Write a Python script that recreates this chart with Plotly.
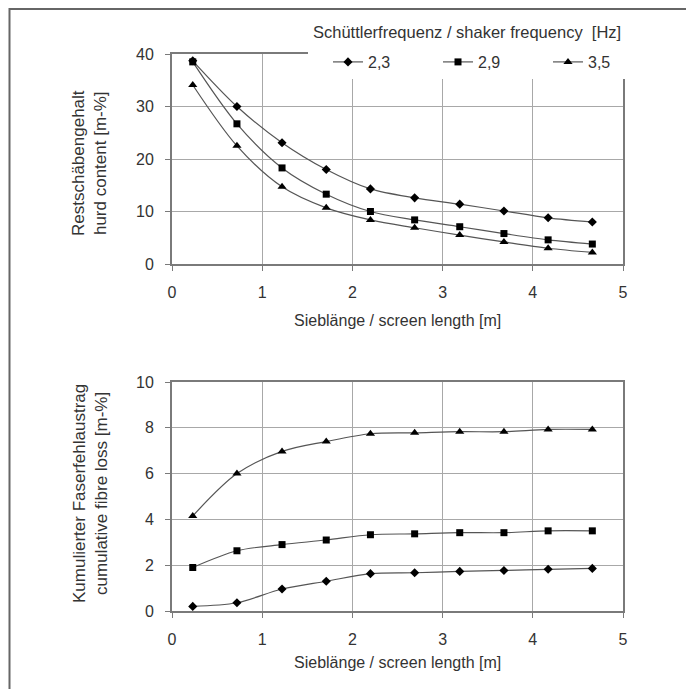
import plotly.graph_objects as go

# ---------------- data ----------------
screen_length = [0.23, 0.72, 1.22, 1.71, 2.20, 2.69, 3.19, 3.68, 4.17, 4.66]
freq_labels = ["2,3", "2,9", "3,5"]

hurd_23 = [38.7, 30.0, 23.1, 18.0, 14.3, 12.6, 11.4, 10.1, 8.8, 8.0]
hurd_29 = [38.5, 26.7, 18.3, 13.3, 10.0, 8.4, 7.1, 5.8, 4.6, 3.8]
hurd_35 = [34.1, 22.5, 14.7, 10.7, 8.4, 6.9, 5.5, 4.2, 3.0, 2.2]

loss_23 = [0.20, 0.36, 0.96, 1.30, 1.63, 1.67, 1.73, 1.77, 1.82, 1.86]
loss_29 = [1.90, 2.63, 2.90, 3.10, 3.33, 3.37, 3.42, 3.42, 3.50, 3.50]
loss_35 = [4.15, 6.00, 6.97, 7.40, 7.74, 7.78, 7.83, 7.83, 7.93, 7.93]

x_ticks = [0, 1, 2, 3, 4, 5]
hurd_ticks = [0, 10, 20, 30, 40]
loss_ticks = [0, 2, 4, 6, 8, 10]

# ---------------- style ----------------
FONT = "Liberation Sans, Arial, sans-serif"
TXT = "#333333"
LINE = "#555555"
GRID = "#a8a8a8"
AXIS = "#7a7a7a"
symbols = ["diamond", "square", "triangle-up"]
msizes = [7, 7, 8]

fig = go.Figure()

hurd = [hurd_23, hurd_29, hurd_35]
loss = [loss_23, loss_29, loss_35]
for i in range(3):
    fig.add_trace(go.Scatter(
        x=screen_length, y=hurd[i], name=freq_labels[i], mode="lines+markers",
        line=dict(color=LINE, width=1.2, shape="spline", smoothing=0.9),
        marker=dict(symbol=symbols[i], size=msizes[i], color="black"),
        xaxis="x", yaxis="y", showlegend=True, cliponaxis=False,
    ))
for i in range(3):
    fig.add_trace(go.Scatter(
        x=screen_length, y=loss[i], name=freq_labels[i], mode="lines+markers",
        line=dict(color=LINE, width=1.2, shape="spline", smoothing=0.9),
        marker=dict(symbol=symbols[i], size=msizes[i], color="black"),
        xaxis="x2", yaxis="y2", showlegend=False, cliponaxis=False,
    ))

# geometry: page coordinates of the screenshot; the page body adds an 8px offset
OFF = 8
W, H = 694 - OFF, 689 - OFF
L = 172 - OFF
T = 54 - OFF
R = W - (623 - OFF)
B = H - (611 - OFF)
pw = W - L - R
ph = H - T - B


def px_x(p):
    return (p - OFF - L) / pw


def px_y(p):
    return (H - B - (p - OFF)) / ph


axis_common = dict(
    showline=True, linecolor=AXIS, linewidth=2, mirror=True,
    showgrid=True, gridcolor=GRID, gridwidth=1,
    ticks="outside", ticklen=5, tickcolor=AXIS, tickwidth=1,
    zeroline=False,
    tickfont=dict(family=FONT, size=16, color=TXT),
)

fig.update_layout(
    width=W, height=H,
    margin=dict(l=L, r=R, t=T, b=B),
    paper_bgcolor="white", plot_bgcolor="white",
    font=dict(family=FONT, size=15, color=TXT),
    xaxis=dict(domain=[0, 1], range=[0, 5], tickvals=x_ticks, anchor="y",
               ticklabelstandoff=8, **axis_common),
    yaxis=dict(domain=[px_y(264), 1], range=[0, 40], tickvals=hurd_ticks, anchor="x",
               ticklabelstandoff=8, **axis_common),
    xaxis2=dict(domain=[0, 1], range=[0, 5], tickvals=x_ticks, anchor="y2",
                ticklabelstandoff=8, **axis_common),
    yaxis2=dict(domain=[0, px_y(382)], range=[0, 10], tickvals=loss_ticks, anchor="x2",
                ticklabelstandoff=8, **axis_common),
    legend=dict(
        orientation="h", x=px_x(328), xanchor="left", y=px_y(62), yanchor="middle",
        bgcolor="white", borderwidth=0,
        font=dict(family=FONT, size=16, color=TXT),
        entrywidth=65, entrywidthmode="pixels", itemwidth=30,
    ),
    showlegend=True,
)

ann = dict(showarrow=False, xref="paper", yref="paper")
fig.add_annotation(text="Schüttlerfrequenz / shaker frequency\u00a0\u00a0[Hz]",
                   x=px_x(623), y=px_y(32), xanchor="right", yanchor="middle",
                   font=dict(family=FONT, size=16.5, color=TXT), **ann)
fig.add_annotation(text="Sieblänge / screen length [m]", x=px_x(397), y=px_y(320),
                   xanchor="center", yanchor="middle",
                   font=dict(family=FONT, size=16, color=TXT), **ann)
fig.add_annotation(text="Sieblänge / screen length [m]", x=px_x(397), y=px_y(662),
                   xanchor="center", yanchor="middle",
                   font=dict(family=FONT, size=16, color=TXT), **ann)
fig.add_annotation(text="Restschäbengehalt<br>hurd content [m-%]", x=px_x(89), y=px_y(163),
                   xanchor="center", yanchor="middle", textangle=-90,
                   font=dict(family=FONT, size=17, color=TXT), **ann)
fig.add_annotation(text="Kumulierter Faserfehlaustrag<br>cumulative fibre loss [m-%]", x=px_x(90),
                   y=px_y(494), xanchor="center", yanchor="middle", textangle=-90,
                   font=dict(family=FONT, size=17, color=TXT), **ann)

# white patch behind the legend, covering the top frame and upper grid
fig.add_shape(type="rect", xref="paper", yref="paper",
              x0=px_x(308), x1=px_x(619), y0=px_y(78), y1=px_y(44),
              line=dict(width=0), fillcolor="white", layer="above")

# outer frame (top edge kept just inside the figure)
fig.add_shape(type="rect", xref="paper", yref="paper",
              x0=px_x(9.5), x1=px_x(688), y0=px_y(700), y1=px_y(OFF + 1),
              line=dict(color="#666666", width=2), fillcolor="rgba(0,0,0,0)", layer="below")

fig.write_html("out.html")
